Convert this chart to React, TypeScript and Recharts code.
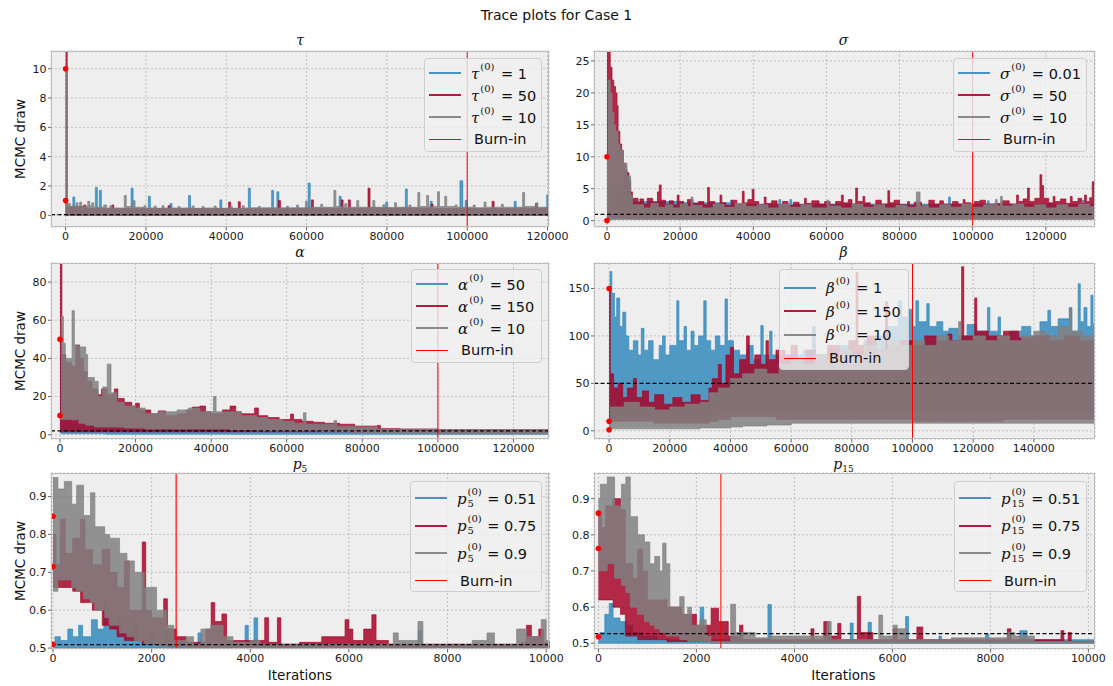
import React from 'react';
import { ComposedChart, Area, Scatter, XAxis, YAxis, CartesianGrid, ReferenceLine } from 'recharts';

// each point: [iteration, lowest draw, highest draw] of the trace around that iteration
type Pt = [number, number, number];

const BLUE = '#348ABD';
const RED = '#A60628';
const GRAY = '#808080';
const FONT = '"DejaVu Sans", sans-serif';
const MATH = '"DejaVu Serif", serif';

const longTicks = [0, 20000, 40000, 60000, 80000, 100000, 120000];
const betaTicks = [0, 20000, 40000, 60000, 80000, 100000, 120000, 140000];
const shortTicks = [0, 2000, 4000, 6000, 8000, 10000];
const tauYTicks = [0, 2, 4, 6, 8, 10];
const sigmaYTicks = [0, 5, 10, 15, 20, 25];
const alphaYTicks = [0, 20, 40, 60, 80];
const betaYTicks = [0, 50, 100, 150];
const pYTicks = [0.5, 0.6, 0.7, 0.8, 0.9];

const tauStarts = ['1', '50', '10'];
const sigmaStarts = ['0.01', '50', '10'];
const alphaStarts = ['50', '150', '10'];
const betaStarts = ['1', '150', '10'];
const p5Starts = ['0.51', '0.75', '0.9'];
const p15Starts = ['0.51', '0.75', '0.9'];

const tauDots = [10, 1];
const sigmaDots = [10, 0.01];
const alphaDots = [50, 10];
const betaDots = [150, 10, 1];
const p5Dots = [0.848, 0.715, 0.51];
const p15Dots = [0.86, 0.762, 0.518];

const tauTruth = 0.05;
const sigmaTruth = 1;
const alphaTruth = 2;
const betaTruth = 50;
const p5Truth = 0.509;
const p15Truth = 0.527;

const tauBlue: Pt[] = [
  [0, 0, 1.0], [300, 0, 0.55], [1800, 0, 1.25], [2300, 0, 0.45], [5000, 0, 0.55], [5500, 0, 0.42],
  [7400, 0, 1.9], [7900, 0, 0.5], [8400, 0, 1.7], [8900, 0, 0.45], [16300, 0, 1.85], [16800, 0, 0.45],
  [20600, 0, 1.3], [21100, 0, 0.45], [26000, 0, 0.8], [26500, 0, 0.45], [30600, 0, 1.35], [31100, 0, 0.45],
  [38400, 0, 1.05], [38900, 0, 0.45], [45500, 0, 1.85], [46000, 0, 0.5], [51300, 0, 1.7], [51800, 0, 0.5],
  [52600, 0, 1.6], [53100, 0, 0.5], [60400, 0, 2.2], [60900, 0, 0.5], [68100, 0, 1.3], [68600, 0, 0.5],
  [79700, 0, 0.9], [80200, 0, 0.45], [84600, 0, 1.8], [85100, 0, 0.45], [90800, 0, 0.95], [91300, 0, 0.45],
  [98200, 0, 2.35], [98900, 0, 0.5], [99500, 0, 1.0], [100000, 0, 0.45], [111700, 0, 0.95], [112200, 0, 0.5],
  [119800, 0, 1.4], [122000, 0, 1.4],
];
const tauRed: Pt[] = [
  [0, 0, 50], [400, 0, 0.6], [4500, 0, 0.7], [5000, 0, 0.45], [11500, 0, 0.7], [12000, 0, 0.45],
  [25500, 0, 0.65], [26000, 0, 0.45], [40600, 0, 0.9], [41100, 0, 0.45], [43000, 0, 0.92], [43500, 0, 0.45],
  [53000, 0, 1.0], [53500, 0, 0.45], [61200, 0, 1.05], [61700, 0, 0.45], [68600, 0, 1.05], [69100, 0, 0.45],
  [70400, 0, 1.05], [70900, 0, 0.45], [75300, 0, 1.85], [75800, 0, 0.5], [91000, 0, 0.75], [91500, 0, 0.45],
  [106200, 0, 0.95], [106700, 0, 0.45], [117000, 0, 0.8], [117500, 0, 0.45], [122000, 0, 0.45],
];
const tauGray: Pt[] = [
  [0, 0, 10], [300, 0, 0.8], [1200, 0, 0.6], [2600, 0, 0.85], [3100, 0, 0.6], [3500, 0, 0.9], [4000, 0, 0.6],
  [5500, 0, 0.95], [6000, 0, 0.65], [6500, 0, 0.85], [7000, 0, 0.55], [9500, 0, 0.7], [10200, 0, 0.5],
  [11000, 0, 0.65], [11600, 0, 0.5], [14600, 0, 1.35], [15100, 0, 0.6], [16800, 0, 1.0], [17300, 0, 0.55],
  [19500, 0, 0.65], [20000, 0, 0.5], [22000, 0, 0.62], [22600, 0, 0.48], [24000, 0, 0.65], [24500, 0, 0.5],
  [28000, 0, 0.6], [28500, 0, 0.5], [31500, 0, 0.64], [32000, 0, 0.48], [34000, 0, 0.6], [34500, 0, 0.5],
  [37000, 0, 0.63], [37500, 0, 0.48], [41000, 0, 0.62], [41500, 0, 0.48], [44000, 0, 0.65], [44500, 0, 0.5],
  [48000, 0, 0.6], [48500, 0, 0.5], [55000, 0, 0.62], [55500, 0, 0.5], [57500, 0, 0.7], [58000, 0, 0.5],
  [59700, 0, 0.95], [60200, 0, 0.55], [63500, 0, 0.75], [64000, 0, 0.55], [66800, 0, 1.7], [67300, 0, 0.6],
  [69500, 0, 0.8], [70000, 0, 0.55], [72500, 0, 1.0], [73000, 0, 0.55], [76500, 0, 1.0], [77000, 0, 0.55],
  [79000, 0, 0.72], [79500, 0, 0.52], [81900, 0, 0.85], [82400, 0, 0.55], [85500, 0, 0.7], [86000, 0, 0.55],
  [87700, 0, 1.55], [88200, 0, 0.6], [89900, 0, 1.35], [90400, 0, 0.6], [92600, 0, 1.6], [93100, 0, 0.6],
  [94400, 0, 1.3], [94900, 0, 0.6], [97000, 0, 0.7], [97500, 0, 0.55], [101500, 0, 0.7], [102000, 0, 0.52],
  [104200, 0, 0.9], [104700, 0, 0.55], [108500, 0, 0.75], [109000, 0, 0.55], [113800, 0, 1.55], [114300, 0, 0.6],
  [117100, 0, 0.85], [117600, 0, 0.55], [122000, 0, 0.55],
];

const sigmaBlue: Pt[] = [
  [0, 0, 0.8], [600, 0.2, 3.5], [2000, 0.3, 5.5], [4400, 0.3, 7.0], [4990, 0.3, 7.5], [5960, 0.3, 6.5],
  [6450, 0.3, 4.0], [6940, 0.3, 3.0], [20000, 0.3, 2.8], [33800, 0.3, 3.2], [34300, 0.3, 2.6],
  [47000, 0.3, 3.3], [47500, 0.3, 2.6], [50000, 0.3, 3.3], [50500, 0.3, 2.6], [93400, 0.3, 3.7],
  [93900, 0.3, 2.6], [104000, 0.3, 3.1], [104500, 0.3, 2.6], [130000, 0.3, 3.2], [130500, 0.3, 2.6],
  [135000, 0.3, 2.6],
];
const sigmaRed: Pt[] = [
  [0, 0.3, 50], [590, 0.5, 26.5], [880, 0.5, 24], [1370, 0.5, 22], [1860, 0.5, 21], [2350, 0.5, 20],
  [2740, 0.5, 18], [3030, 0.5, 14], [3520, 0.5, 12], [4000, 0.5, 11], [4500, 0.4, 9], [4990, 0.4, 8],
  [5470, 0.4, 7.5], [5960, 0.3, 6], [6450, 0.3, 4.5], [6940, 0.3, 3.5], [8500, 0.3, 2.8], [9000, 0.3, 3.4],
  [10000, 0.3, 2.6], [11000, 0.3, 3.5], [12500, 0.3, 2.9], [13800, 0.3, 4.5], [14300, 0.3, 5.6],
  [14800, 0.3, 3.2], [16000, 0.3, 2.6], [17000, 0.3, 3.1], [18200, 0.3, 2.5], [19200, 0.3, 4.0],
  [19700, 0.3, 3.0], [21000, 0.3, 2.5], [22000, 0.3, 3.3], [23500, 0.3, 2.7], [25000, 0.3, 3.0],
  [26500, 0.3, 2.5], [27500, 0.3, 5.2], [28000, 0.3, 3.0], [29500, 0.3, 2.6], [30900, 0.3, 4.0],
  [31400, 0.3, 2.8], [32500, 0.3, 2.4], [34000, 0.3, 3.2], [35500, 0.3, 2.6], [37000, 0.3, 4.6],
  [37500, 0.3, 2.8], [38500, 0.3, 3.3], [39700, 0.3, 4.9], [40200, 0.3, 3.0], [41500, 0.3, 2.5],
  [43000, 0.3, 3.7], [43500, 0.3, 2.7], [45000, 0.3, 3.1], [46500, 0.3, 2.5], [48000, 0.3, 3.0],
  [49500, 0.3, 2.4], [51000, 0.3, 2.9], [52500, 0.3, 2.5], [54000, 0.3, 3.5], [54500, 0.3, 2.7],
  [56000, 0.3, 3.1], [58000, 0.3, 2.6], [59500, 0.3, 3.0], [61000, 0.3, 2.5], [62500, 0.3, 3.0],
  [64100, 0.3, 4.0], [64600, 0.3, 2.8], [66000, 0.3, 3.3], [67000, 0.3, 2.6], [68000, 0.3, 5.1],
  [68500, 0.3, 3.0], [70000, 0.3, 3.8], [70500, 0.3, 2.8], [72000, 0.3, 2.4], [73500, 0.3, 3.2],
  [75000, 0.3, 2.6], [76800, 0.3, 4.7], [77300, 0.3, 2.8], [78500, 0.3, 3.2], [80000, 0.3, 2.5],
  [82200, 0.3, 3.0], [82700, 0.3, 2.4], [84000, 0.3, 2.9], [86000, 0.3, 2.3], [88000, 0.3, 3.2],
  [89500, 0.3, 2.6], [91000, 0.3, 3.1], [92000, 0.3, 2.6], [94500, 0.3, 3.0], [96000, 0.3, 2.6],
  [97400, 0.3, 3.3], [97900, 0.3, 2.8], [99500, 0.3, 2.5], [100500, 0.3, 3.0], [102000, 0.3, 3.2],
  [103500, 0.3, 2.6], [106000, 0.3, 2.7], [108000, 0.3, 3.1], [110000, 0.3, 2.6], [112000, 0.3, 4.0],
  [112500, 0.3, 3.0], [113800, 0.3, 3.4], [115000, 0.3, 5.1], [115500, 0.3, 3.0], [117000, 0.3, 3.5],
  [118400, 0.3, 7.2], [118900, 0.3, 5.5], [119400, 0.3, 3.5], [120800, 0.3, 2.8], [122000, 0.3, 3.8],
  [122500, 0.3, 3.0], [124000, 0.3, 3.4], [125500, 0.3, 2.7], [126700, 0.3, 3.8], [127200, 0.3, 3.0],
  [128800, 0.3, 3.5], [129800, 0.3, 2.7], [130600, 0.3, 4.0], [131100, 0.3, 3.0], [132000, 0.3, 3.6],
  [132700, 0.3, 6.1], [133200, 0.3, 3.2], [135000, 0.3, 3.2],
];
const sigmaGray: Pt[] = [
  [0, 0.2, 10], [300, 0.2, 22], [880, 0.2, 20], [1370, 0.2, 17], [1860, 0.2, 15], [2350, 0.2, 14],
  [3030, 0.2, 12], [3520, 0.2, 11], [4500, 0.2, 9], [5470, 0.2, 7], [6450, 0.2, 4], [6940, 0.2, 2.5],
  [10000, 0.2, 2.0], [12000, 0.2, 2.7], [14000, 0.2, 2.1], [16000, 0.2, 2.5], [18000, 0.2, 2.0],
  [20000, 0.2, 2.6], [22000, 0.2, 2.2], [23000, 0.2, 3.7], [23500, 0.2, 2.4], [26000, 0.2, 2.0],
  [29000, 0.2, 2.6], [32000, 0.2, 2.1], [35000, 0.2, 2.7], [38000, 0.2, 2.2], [41000, 0.2, 2.5],
  [44000, 0.2, 2.0], [47000, 0.2, 2.6], [50000, 0.2, 2.1], [53000, 0.2, 2.5], [56000, 0.2, 2.0],
  [60200, 0.2, 3.2], [60700, 0.2, 2.3], [64000, 0.2, 2.0], [67000, 0.2, 2.6], [70000, 0.2, 2.1],
  [73000, 0.2, 2.5], [76000, 0.2, 2.0], [79000, 0.2, 2.4], [82000, 0.2, 2.1], [84600, 0.2, 4.5],
  [85600, 0.2, 2.3], [88000, 0.2, 2.0], [91000, 0.2, 2.5], [94000, 0.2, 2.1], [97000, 0.2, 2.6],
  [100000, 0.2, 2.1], [103000, 0.2, 2.5], [106200, 0.2, 3.3], [106700, 0.2, 2.3], [107600, 0.2, 3.8],
  [108100, 0.2, 2.3], [111000, 0.2, 2.6], [114000, 0.2, 2.1], [117000, 0.2, 2.5], [120000, 0.2, 2.0],
  [123000, 0.2, 2.5], [126000, 0.2, 2.1], [129000, 0.2, 2.6], [132000, 0.2, 2.2], [135000, 0.2, 2.2],
];

const alphaBlue: Pt[] = [
  [0, 1, 50], [380, 0.5, 10], [1200, 0.5, 8], [3000, 0.5, 7], [4500, 0.5, 8.5], [5500, 0.5, 6],
  [6800, 0.5, 5], [9000, 0.5, 4.5], [12000, 0.3, 4], [14000, 0.3, 3.5], [20000, 0.3, 3.2], [30000, 0.3, 3],
  [45000, 0.2, 2.8], [60000, 0.2, 2.5], [80000, 0.2, 2.2], [131000, 0.2, 2.2],
];
const alphaRed: Pt[] = [
  [0, 1.5, 150], [500, 1.5, 42], [1500, 1.5, 38], [3000, 1.5, 36], [4200, 1.5, 47], [5200, 1.5, 40],
  [6200, 1.5, 33], [7200, 1.5, 28], [8500, 1.5, 24], [10000, 1.5, 21], [11000, 1.5, 24], [12500, 1.5, 21],
  [14400, 1.5, 24], [15300, 1.5, 19], [17000, 1.5, 17], [19000, 1.5, 15], [20000, 1.5, 16.5], [21000, 1.5, 13],
  [24000, 1.5, 11], [26000, 1.5, 12.5], [28000, 1.5, 10], [31000, 1.5, 11], [33500, 1.5, 13], [35000, 1.5, 14.5],
  [37000, 1.5, 15], [38500, 1.5, 12], [40000, 1.5, 11], [43000, 1.5, 13], [45000, 1.5, 15], [46500, 1.5, 12],
  [48000, 1.5, 11], [51500, 1.5, 14], [52500, 1.5, 10], [55000, 1.5, 9], [58000, 1.5, 8], [61000, 1.5, 10.8],
  [61800, 1.5, 8], [64000, 1.5, 7], [67000, 1.5, 6.5], [70000, 1.5, 6], [74000, 1.5, 5.5], [78000, 1.5, 4.5],
  [84000, 1.5, 4.9], [84800, 1.5, 3.2], [90000, 1.5, 3], [100000, 1.2, 2.6], [131000, 1.2, 2.6],
];
const alphaGray: Pt[] = [
  [0, 8, 10], [380, 8, 62], [900, 8, 48], [1400, 8, 40], [3200, 8, 65], [3800, 8, 47], [5000, 6, 46],
  [6800, 5, 42], [7300, 5, 30], [9100, 4, 28], [10100, 4, 20], [11300, 4, 25], [12500, 4, 37], [13500, 4, 22],
  [15000, 4, 17], [17000, 3.5, 15], [20000, 3.5, 14], [22500, 3, 11], [26000, 3, 12], [31000, 3, 13],
  [34000, 3, 14], [37000, 3, 12], [40600, 3, 20], [41300, 3, 12], [45000, 2.5, 12], [48000, 2.5, 10],
  [52000, 2, 9], [55000, 2, 8], [59000, 2, 7], [62000, 2, 6], [64400, 2, 11.5], [65100, 2, 5.5],
  [69000, 1.5, 5.5], [72500, 1.5, 7.5], [73200, 1.5, 4.5], [78000, 1.2, 4], [84000, 1, 3], [90000, 0.8, 2.8],
  [100000, 0.5, 2.6], [131000, 0.5, 2.6],
];

const betaBlue: Pt[] = [
  [0, 1, 20], [300, 10, 168], [900, 10, 145], [1800, 12, 120], [2500, 12, 140], [3500, 15, 110],
  [4500, 15, 125], [5500, 15, 100], [6500, 15, 85], [8000, 15, 95], [9500, 15, 80], [10600, 15, 108],
  [11500, 15, 85], [13000, 15, 95], [14500, 15, 75], [16500, 12, 90], [17600, 12, 100], [18500, 12, 80],
  [20000, 12, 90], [22300, 12, 137], [23000, 12, 95], [24700, 12, 110], [25500, 12, 85], [27000, 12, 105],
  [28000, 12, 90], [29500, 12, 100], [31200, 15, 137], [32000, 15, 95], [33500, 15, 85], [35000, 20, 100],
  [36500, 20, 90], [38200, 20, 139], [39000, 20, 95], [41000, 20, 85], [43000, 20, 80], [45500, 20, 90],
  [47500, 20, 75], [50000, 20, 111], [50800, 20, 80], [52900, 20, 105], [53700, 20, 80], [56000, 20, 75],
  [60000, 20, 80], [64000, 20, 85], [67000, 20, 110], [68000, 20, 80], [72000, 20, 85], [76000, 20, 90],
  [80000, 20, 85], [84000, 20, 95], [88000, 20, 100], [92000, 20, 110], [95300, 20, 137], [96500, 20, 120],
  [98500, 20, 128], [100000, 20, 110], [101100, 20, 137], [102000, 20, 115], [104700, 20, 134],
  [105500, 20, 110], [108000, 20, 115], [110000, 20, 105], [112000, 20, 108], [115000, 20, 100],
  [118000, 20, 112], [121000, 20, 105], [124700, 20, 130], [125500, 20, 105], [128200, 20, 120],
  [129000, 20, 100], [132000, 20, 105], [136000, 20, 110], [139000, 20, 100], [142000, 20, 115],
  [144600, 20, 127], [145500, 20, 110], [148000, 20, 118], [151700, 20, 130], [152500, 20, 105],
  [154600, 20, 155], [155300, 20, 115], [156500, 20, 130], [157500, 20, 110], [158800, 20, 143],
  [159500, 20, 112], [161000, 20, 112],
];
const betaRed: Pt[] = [
  [0, 10, 150], [400, 10, 60], [1500, 10, 45], [3000, 10, 50], [4500, 10, 35], [6000, 10, 45],
  [8000, 10, 55], [9000, 10, 35], [11000, 10, 42], [13000, 10, 30], [15000, 8, 38], [18000, 8, 28],
  [21000, 8, 35], [24000, 8, 30], [27000, 8, 38], [30000, 8, 32], [32900, 10, 45], [34000, 10, 55],
  [36000, 12, 70], [37000, 12, 50], [38500, 12, 80], [40000, 15, 88], [41000, 15, 60], [43000, 15, 75],
  [45300, 15, 100], [46200, 15, 70], [48000, 15, 80], [50000, 15, 70], [51700, 15, 95], [52500, 15, 75],
  [55000, 12, 85], [58000, 12, 80], [60000, 12, 90], [62000, 12, 75], [65000, 12, 85], [68000, 12, 80],
  [72000, 12, 90], [76000, 12, 85], [79000, 12, 95], [81400, 12, 167], [82000, 12, 90], [85000, 12, 100],
  [88000, 12, 85], [91100, 12, 136], [91800, 12, 90], [95000, 12, 95], [100000, 10, 90], [104000, 10, 100],
  [108000, 10, 95], [111700, 10, 102], [113000, 10, 95], [116200, 10, 173], [116900, 10, 100],
  [120500, 10, 140], [121200, 10, 105], [125000, 10, 100], [130000, 12, 105], [135000, 12, 98],
  [140000, 12, 100], [145000, 12, 95], [150000, 12, 100], [155000, 12, 95], [161000, 12, 95],
];
const betaGray: Pt[] = [
  [0, 2, 10], [400, 2, 25], [5000, 2, 30], [10000, 2, 25], [15000, 2, 22], [20000, 2, 25], [25000, 2, 28],
  [30000, 3, 30], [33000, 3, 40], [36000, 3, 45], [40000, 4, 55], [44000, 5, 60], [48000, 5, 65],
  [52000, 6, 60], [56000, 6, 70], [60000, 8, 75], [64000, 8, 70], [68000, 8, 80], [72000, 8, 75],
  [76000, 8, 85], [80000, 8, 80], [84000, 8, 90], [88000, 8, 85], [92000, 8, 95], [96000, 8, 90],
  [100000, 8, 95], [104000, 8, 90], [108000, 8, 100], [112000, 8, 95], [115200, 8, 115], [116000, 8, 95],
  [120000, 8, 100], [124000, 8, 95], [128000, 8, 100], [132000, 8, 95], [136000, 8, 100], [140000, 8, 105],
  [144000, 8, 100], [148000, 8, 110], [151700, 8, 129], [152500, 8, 105], [156000, 8, 100], [161000, 8, 100],
];

const p5Blue: Pt[] = [
  [0, 0.5, 0.51], [40, 0.5, 0.53], [150, 0.5, 0.52], [300, 0.5, 0.55], [400, 0.5, 0.53], [520, 0.5, 0.56],
  [600, 0.5, 0.53], [780, 0.5, 0.575], [900, 0.5, 0.55], [1030, 0.5, 0.62], [1100, 0.5, 0.56],
  [1290, 0.5, 0.58], [1400, 0.5, 0.54], [1620, 0.5, 0.57], [1720, 0.5, 0.52], [1950, 0.5, 0.55],
  [2050, 0.5, 0.51], [2280, 0.5, 0.54], [2380, 0.5, 0.505], [2940, 0.5, 0.54], [3020, 0.5, 0.505],
  [3895, 0.5, 0.56], [3960, 0.5, 0.505], [4076, 0.5, 0.58], [4150, 0.5, 0.51], [5900, 0.5, 0.51],
  [6000, 0.5, 0.505], [7407, 0.5, 0.545], [7480, 0.5, 0.505], [10100, 0.5, 0.505],
];
const p5Red: Pt[] = [
  [0, 0.66, 0.8], [60, 0.66, 0.72], [150, 0.66, 0.84], [250, 0.66, 0.75], [400, 0.65, 0.79], [560, 0.62, 0.84],
  [650, 0.62, 0.76], [800, 0.6, 0.72], [1000, 0.56, 0.76], [1150, 0.55, 0.7], [1300, 0.53, 0.66],
  [1450, 0.52, 0.73], [1550, 0.52, 0.6], [1810, 0.51, 0.78], [1880, 0.51, 0.6], [2000, 0.51, 0.58],
  [2244, 0.51, 0.63], [2320, 0.505, 0.55], [2500, 0.505, 0.53], [2700, 0.502, 0.515], [3100, 0.502, 0.55],
  [3207, 0.502, 0.62], [3280, 0.502, 0.57], [3425, 0.502, 0.59], [3520, 0.502, 0.52], [4293, 0.502, 0.58],
  [4370, 0.502, 0.515], [4550, 0.502, 0.58], [4620, 0.502, 0.51], [5000, 0.502, 0.515], [5450, 0.502, 0.53],
  [5922, 0.502, 0.575], [6000, 0.502, 0.55], [6080, 0.502, 0.52], [6300, 0.502, 0.55], [6465, 0.502, 0.588],
  [6550, 0.502, 0.52], [6800, 0.502, 0.51], [9500, 0.502, 0.515], [9600, 0.502, 0.56], [9700, 0.502, 0.53],
  [9850, 0.502, 0.55], [9950, 0.502, 0.515], [10100, 0.502, 0.515],
];
const p5Gray: Pt[] = [
  [0, 0.65, 0.95], [100, 0.68, 0.92], [230, 0.68, 0.94], [380, 0.66, 0.88], [480, 0.65, 0.93],
  [620, 0.63, 0.85], [760, 0.62, 0.91], [850, 0.6, 0.82], [1050, 0.58, 0.8], [1150, 0.56, 0.79],
  [1350, 0.54, 0.75], [1500, 0.53, 0.73], [1650, 0.52, 0.7], [1850, 0.51, 0.66], [2100, 0.505, 0.6],
  [2300, 0.505, 0.56], [2450, 0.503, 0.52], [2700, 0.5, 0.53], [2850, 0.5, 0.51], [3000, 0.5, 0.55],
  [3200, 0.5, 0.56], [3450, 0.5, 0.53], [3650, 0.5, 0.515], [4000, 0.5, 0.52], [4200, 0.5, 0.51],
  [6900, 0.5, 0.54], [7000, 0.5, 0.52], [7400, 0.5, 0.57], [7500, 0.5, 0.51], [8500, 0.5, 0.52],
  [8800, 0.5, 0.54], [8950, 0.5, 0.51], [9400, 0.5, 0.55], [9600, 0.5, 0.53], [9900, 0.5, 0.575],
  [10000, 0.5, 0.52], [10100, 0.5, 0.52],
];

const p15Blue: Pt[] = [
  [0, 0.5, 0.52], [30, 0.5, 0.53], [130, 0.5, 0.58], [220, 0.5, 0.61], [300, 0.5, 0.57], [440, 0.5, 0.56],
  [580, 0.5, 0.55], [700, 0.5, 0.53], [900, 0.5, 0.52], [1200, 0.5, 0.51], [2000, 0.5, 0.52],
  [2077, 0.5, 0.6], [2150, 0.5, 0.51], [3460, 0.5, 0.607], [3530, 0.5, 0.505], [5140, 0.5, 0.556],
  [5200, 0.5, 0.505], [5504, 0.5, 0.558], [5570, 0.5, 0.505], [6269, 0.5, 0.574], [6330, 0.5, 0.505],
  [6950, 0.5, 0.52], [7000, 0.5, 0.505], [7900, 0.5, 0.525], [7970, 0.5, 0.505], [8600, 0.5, 0.535],
  [8750, 0.5, 0.51], [10200, 0.5, 0.505],
];
const p15Red: Pt[] = [
  [0, 0.62, 0.86], [60, 0.62, 0.82], [150, 0.62, 0.88], [300, 0.6, 0.9], [450, 0.58, 0.87], [550, 0.52, 0.72],
  [700, 0.52, 0.68], [802, 0.51, 0.76], [900, 0.51, 0.7], [1000, 0.51, 0.62], [1400, 0.505, 0.6],
  [1700, 0.505, 0.58], [2000, 0.505, 0.55], [2300, 0.505, 0.597], [2450, 0.505, 0.56], [2650, 0.505, 0.52],
  [2880, 0.505, 0.55], [2950, 0.505, 0.51], [4338, 0.505, 0.54], [4400, 0.505, 0.51], [4600, 0.505, 0.56],
  [4700, 0.505, 0.52], [4884, 0.505, 0.555], [4950, 0.505, 0.51], [5285, 0.505, 0.63], [5350, 0.505, 0.53],
  [5504, 0.505, 0.53], [5600, 0.505, 0.51], [6014, 0.505, 0.54], [6100, 0.505, 0.51], [6500, 0.505, 0.545],
  [6620, 0.505, 0.51], [8347, 0.505, 0.54], [8420, 0.505, 0.51], [9440, 0.505, 0.535], [9500, 0.505, 0.505],
  [9586, 0.505, 0.53], [9650, 0.505, 0.505], [10200, 0.505, 0.505],
];
const p15Gray: Pt[] = [
  [0, 0.7, 0.9], [40, 0.7, 0.94], [180, 0.72, 0.96], [330, 0.68, 0.88], [470, 0.66, 0.94], [560, 0.64, 0.96],
  [650, 0.6, 0.85], [800, 0.58, 0.8], [940, 0.56, 0.78], [1050, 0.55, 0.72], [1150, 0.54, 0.74],
  [1250, 0.53, 0.7], [1312, 0.53, 0.777], [1380, 0.52, 0.72], [1458, 0.52, 0.6], [1660, 0.51, 0.629],
  [1750, 0.51, 0.58], [1822, 0.505, 0.6], [1900, 0.505, 0.55], [2070, 0.505, 0.565], [2200, 0.503, 0.52],
  [2296, 0.5, 0.505], [2700, 0.5, 0.608], [2800, 0.5, 0.53], [3200, 0.5, 0.515], [3500, 0.5, 0.52],
  [4666, 0.5, 0.56], [4750, 0.5, 0.51], [5723, 0.5, 0.578], [5800, 0.5, 0.52], [6014, 0.5, 0.55],
  [6100, 0.5, 0.54], [6300, 0.5, 0.51], [7200, 0.5, 0.515], [8347, 0.5, 0.53], [8500, 0.5, 0.52],
  [8900, 0.5, 0.505], [10200, 0.5, 0.505],
];

function buildRows(blue: Pt[], red: Pt[], gray: Pt[]) {
  const rows: any[] = [];
  blue.forEach(([x, lo, hi]) => rows.push({ x, b: [lo, hi] }));
  red.forEach(([x, lo, hi]) => rows.push({ x, r: [lo, hi] }));
  gray.forEach(([x, lo, hi]) => rows.push({ x, g: [lo, hi] }));
  return rows.sort((a, b) => a.x - b.x);
}

const YW = 48;
const PAD = 5;
const RPAD = 32;
const XH = 24;
const tickStyle = { fontSize: 11, fill: '#1a1a1a', fontFamily: FONT };

function Panel(props: any) {
  const { left, top, width, height, xDomain, yDomain, xTicks, yTicks, blue, red, gray, truth, burnIn, dots, burnWidth = 1, burnOpacity = 1 } = props;
  const rows = buildRows(blue, red, gray);
  const series = [
    { key: 'b', color: BLUE },
    { key: 'r', color: RED },
    { key: 'g', color: GRAY },
  ];
  return (
    <div style={{ position: 'absolute', left: left - YW, top: top - PAD }}>
      <ComposedChart
        width={width + YW + RPAD}
        height={height + PAD + XH}
        data={rows}
        margin={{ top: PAD, right: RPAD, left: 0, bottom: 0 }}
      >
        <CartesianGrid fill="#eeeeee" stroke="#b5b5b5" strokeDasharray="2 2" strokeWidth={0.8} />
        <XAxis
          type="number"
          dataKey="x"
          domain={xDomain}
          allowDataOverflow
          ticks={xTicks}
          interval={0}
          height={XH}
          axisLine={false}
          tickSize={3.5}
          tickMargin={2}
          tickLine={{ stroke: '#666' }}
          tick={tickStyle}
        />
        <YAxis
          type="number"
          domain={yDomain}
          allowDataOverflow
          ticks={yTicks}
          interval={0}
          width={YW}
          axisLine={false}
          tickSize={3}
          tickMargin={1.5}
          tickLine={{ stroke: '#666' }}
          tick={tickStyle}
        />
        {series.map((s) => (
          <Area
            key={s.key}
            dataKey={s.key}
            type="stepAfter"
            connectNulls
            stroke={s.color}
            strokeWidth={0.8}
            strokeOpacity={0.85}
            fill={s.color}
            fillOpacity={0.85}
            dot={false}
            activeDot={false}
            isAnimationActive={false}
          />
        ))}
        <ReferenceLine y={truth} stroke="#000000" strokeDasharray="4 2.5" strokeWidth={1.3} />
        <ReferenceLine x={burnIn} stroke="#ff0000" strokeWidth={burnWidth} strokeOpacity={burnOpacity} />
        <Scatter
          data={dots.map((v: number) => ({ x: 0, y: v }))}
          dataKey="y"
          isAnimationActive={false}
          shape={(p: any) => <circle cx={p.cx} cy={p.cy} r={2.8} fill="#ff0000" />}
        />
      </ComposedChart>
      <div
        style={{
          position: 'absolute',
          left: YW,
          top: PAD,
          width,
          height,
          boxSizing: 'border-box',
          border: '1px solid #bcbcbc',
          pointerEvents: 'none',
        }}
      />
    </div>
  );
}

function Sym({ name, sub, size = 15 }: { name: string; sub?: string; size?: number }) {
  return (
    <span style={{ fontFamily: MATH, fontStyle: 'italic', fontSize: size }}>
      {name}
      <span style={{ position: 'relative', display: 'inline-block', width: sub ? 16 : 17, height: '1em', fontStyle: 'normal' }}>
        <span style={{ position: 'absolute', left: 1, top: -3, fontSize: 10 }}>(0)</span>
        {sub && <span style={{ position: 'absolute', left: 1, top: 9, fontSize: 10 }}>{sub}</span>}
      </span>
    </span>
  );
}

function LegendBox(props: any) {
  const { left, top, width, height, pad, row, name, sub, values } = props;
  const colors = [BLUE, RED, GRAY];
  return (
    <div
      style={{
        position: 'absolute', left, top, width, height, boxSizing: 'border-box',
        border: '1px solid #cfcfcf', borderRadius: 4, background: 'rgba(240,240,240,0.8)',
        paddingTop: pad, fontFamily: FONT, fontSize: 14.5, color: '#111',
      }}
    >
      {values.map((v: string, i: number) => (
        <div key={i} style={{ display: 'flex', alignItems: 'center', height: row }}>
          <div style={{ width: 32, height: 2, marginLeft: 4, background: colors[i], opacity: 0.9 }} />
          <div style={{ marginLeft: 10, whiteSpace: 'nowrap' }}>
            <Sym name={name} sub={sub} /> = {v}
          </div>
        </div>
      ))}
      <div style={{ display: 'flex', alignItems: 'center', height: row }}>
        <div style={{ width: 32, height: 1, marginLeft: 4, background: '#ff0000' }} />
        <div style={{ marginLeft: 13, whiteSpace: 'nowrap' }}>Burn-in</div>
      </div>
    </div>
  );
}

function Title({ x, y, name, sub }: { x: number; y: number; name: string; sub?: string }) {
  return (
    <div style={{ position: 'absolute', left: x - 40, top: y - 10, width: 80, textAlign: 'center', fontFamily: MATH, fontStyle: 'italic', fontSize: 14, color: '#111', lineHeight: '20px' }}>
      {name}
      {sub && <span style={{ fontSize: 9, fontStyle: 'normal', position: 'relative', top: 3 }}>{sub}</span>}
    </div>
  );
}

function Label({ x, y, text, rotate }: { x: number; y: number; text: string; rotate?: boolean }) {
  return (
    <div
      style={{
        position: 'absolute', left: x - 60, top: y - 10, width: 120, height: 20, lineHeight: '20px',
        textAlign: 'center', fontFamily: FONT, fontSize: 13.5, color: '#111',
        transform: rotate ? 'rotate(-90deg)' : undefined,
      }}
    >
      {text}
    </div>
  );
}

export default function App() {
  return (
    <div style={{ position: 'absolute', left: 0, top: 0, width: 1113, height: 686, background: '#ffffff', overflow: 'hidden' }}>
      <div style={{ position: 'absolute', left: 0, top: 7, width: 1113, textAlign: 'center', fontFamily: FONT, fontSize: 14, color: '#111' }}>
        Trace plots for Case 1
      </div>

      <Panel left={51} top={51} width={498} height={176} xDomain={[-3640, 120370]} yDomain={[-0.8, 11.21]}
        xTicks={longTicks} yTicks={tauYTicks} blue={tauBlue} red={tauRed} gray={tauGray} truth={tauTruth} burnIn={100000} dots={tauDots} />
      <Panel left={593.5} top={51} width={501} height={176} xDomain={[-3560, 133450]} yDomain={[-0.99, 26.56]}
        xTicks={longTicks} yTicks={sigmaYTicks} blue={sigmaBlue} red={sigmaRed} gray={sigmaGray} truth={sigmaTruth} burnIn={100000} dots={sigmaDots} />
      <Panel left={51} top={263} width={498} height={176} xDomain={[-2380, 129400]} yDomain={[-2.24, 90]}
        xTicks={longTicks} yTicks={alphaYTicks} blue={alphaBlue} red={alphaRed} gray={alphaGray} truth={alphaTruth} burnIn={100000} dots={alphaDots} />
      <Panel left={593.5} top={263} width={501} height={176} xDomain={[-4980, 160150]} yDomain={[-8.7, 176.9]}
        xTicks={betaTicks} yTicks={betaYTicks} blue={betaBlue} red={betaRed} gray={betaGray} truth={betaTruth} burnIn={100000} dots={betaDots} />
      <Panel left={50.5} top={473} width={498.5} height={176} xDomain={[-40, 10067]} yDomain={[0.4975, 0.9622]}
        xTicks={shortTicks} yTicks={pYTicks} blue={p5Blue} red={p5Red} gray={p5Gray} truth={p5Truth} burnIn={2500} dots={p5Dots}
        burnWidth={1.8} burnOpacity={0.7} />
      <Panel left={593.5} top={473} width={501} height={176} xDomain={[-90, 10135]} yDomain={[0.4842, 0.971]}
        xTicks={shortTicks} yTicks={pYTicks} blue={p15Blue} red={p15Red} gray={p15Gray} truth={p15Truth} burnIn={2500} dots={p15Dots} />

      <Title x={300} y={40} name="τ" />
      <Title x={843.5} y={40} name="σ" />
      <Title x={300} y={251.5} name="α" />
      <Title x={843.5} y={251.5} name="β" />
      <Title x={300} y={464} name="p" sub="5" />
      <Title x={843.5} y={464} name="p" sub="15" />

      <Label x={20} y={139} text="MCMC draw" rotate />
      <Label x={20} y={351} text="MCMC draw" rotate />
      <Label x={20} y={561} text="MCMC draw" rotate />
      <Label x={300} y={675} text="Iterations" />
      <Label x={843.5} y={675} text="Iterations" />

      <LegendBox left={424} top={58} width={118} height={94} pad={3} row={22} name="τ" values={tauStarts} />
      <LegendBox left={953} top={58} width={134} height={94} pad={3} row={22} name="σ" values={sigmaStarts} />
      <LegendBox left={411} top={269} width={131} height={94} pad={3} row={22} name="α" values={alphaStarts} />
      <LegendBox left={779} top={269} width={130} height={101} pad={6} row={23.5} name="β" values={betaStarts} />
      <LegendBox left={410} top={481} width={132} height={111} pad={2.5} row={27.5} name="p" sub="5" values={p5Starts} />
      <LegendBox left={954} top={481} width={133} height={111} pad={2.5} row={27.5} name="p" sub="15" values={p15Starts} />
    </div>
  );
}
